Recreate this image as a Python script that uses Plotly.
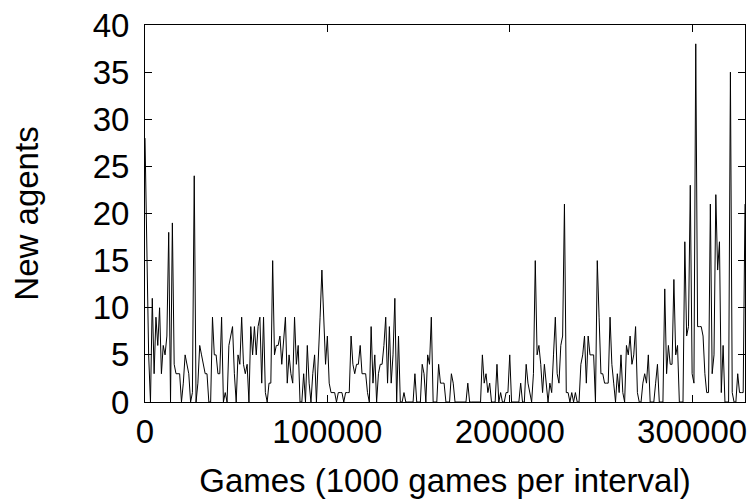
import plotly.graph_objects as go

# New agents per interval; each interval covers 1000 games
new_agents = [
    28, 15, 5, 0, 11, 3, 9, 6, 10, 3, 6, 5, 7, 18, 0, 19, 4, 3, 3, 3,
    0, 2, 5, 4, 3, 0, 1, 24, 0, 2, 6, 5, 4, 3, 3, 0, 0, 9, 5, 5,
    3, 3, 9, 0, 1, 0, 6, 7, 8, 3, 0, 5, 4, 9, 4, 3, 4, 0, 8, 5,
    8, 5, 8, 9, 2, 9, 1, 0, 2, 2, 15, 5, 6, 6, 7, 4, 7, 9, 2, 5,
    3, 2, 9, 4, 6, 0, 0, 3, 0, 6, 2, 0, 3, 5, 0, 4, 9, 14, 9, 4,
    7, 2, 1, 1, 1, 0, 1, 1, 1, 0, 1, 1, 1, 7, 4, 3, 4, 4, 6, 3,
    3, 3, 1, 0, 8, 2, 5, 0, 3, 4, 4, 6, 9, 2, 8, 2, 5, 11, 0, 7,
    0, 0, 1, 0, 0, 0, 0, 0, 3, 0, 0, 0, 4, 3, 0, 5, 4, 9, 0, 0,
    0, 4, 2, 2, 2, 0, 0, 0, 3, 2, 0, 0, 0, 0, 0, 0, 0, 2, 0, 0,
    0, 0, 0, 0, 0, 5, 2, 3, 1, 2, 0, 0, 0, 4, 0, 1, 0, 0, 1, 1,
    5, 0, 0, 0, 0, 0, 2, 0, 0, 4, 2, 1, 0, 3, 15, 5, 6, 4, 1, 4,
    2, 0, 2, 1, 5, 9, 3, 2, 6, 7, 21, 1, 1, 0, 1, 0, 1, 0, 0, 4,
    5, 7, 2, 7, 5, 5, 5, 0, 15, 9, 3, 3, 2, 2, 2, 9, 4, 2, 0, 3,
    1, 5, 1, 0, 6, 5, 7, 4, 5, 8, 1, 0, 0, 2, 3, 2, 5, 0, 0, 0,
    2, 4, 0, 0, 0, 12, 3, 6, 4, 4, 13, 5, 6, 0, 0, 0, 17, 7, 8, 23,
    3, 2, 38, 8, 8, 8, 7, 3, 1, 1, 21, 3, 5, 22, 14, 17, 1, 6, 0, 0,
    0, 35, 1, 0, 0, 3, 1, 1, 1, 21,
]
games_per_interval = 1000
games = [i * games_per_interval for i in range(len(new_agents))]

x_ticks = [0, 100000, 200000, 300000]
y_ticks = [0, 5, 10, 15, 20, 25, 30, 35, 40]

FONT_SIZE = 33

fig = go.Figure(
    go.Scatter(
        x=games,
        y=new_agents,
        mode="lines",
        line=dict(color="black", width=1),
        showlegend=False,
    )
)

axis_style = dict(
    showline=True,
    linecolor="black",
    linewidth=1,
    mirror="ticks",
    ticks="inside",
    ticklen=7,
    tickcolor="black",
    showgrid=False,
    zeroline=False,
    tickfont=dict(size=FONT_SIZE, color="black"),
)

fig.update_xaxes(
    range=[0, games[-1]],
    tickvals=x_ticks,
    ticktext=[str(v) for v in x_ticks],
    ticklabelstandoff=0,
    title=dict(text="Games (1000 games per interval)", font=dict(size=FONT_SIZE, color="black"), standoff=20),
    **axis_style,
)
fig.update_yaxes(
    range=[0, 40],
    tickvals=y_ticks,
    ticktext=[str(v) for v in y_ticks],
    ticklabelstandoff=8,
    title=dict(text="New agents", font=dict(size=FONT_SIZE, color="black"), standoff=44),
    **axis_style,
)

fig.update_layout(
    width=752,
    height=502,
    margin=dict(l=145, r=5, t=25, b=100),
    paper_bgcolor="white",
    plot_bgcolor="white",
    font=dict(family="Liberation Sans, Arial, sans-serif", color="black"),
)

fig.write_html("out.html")
